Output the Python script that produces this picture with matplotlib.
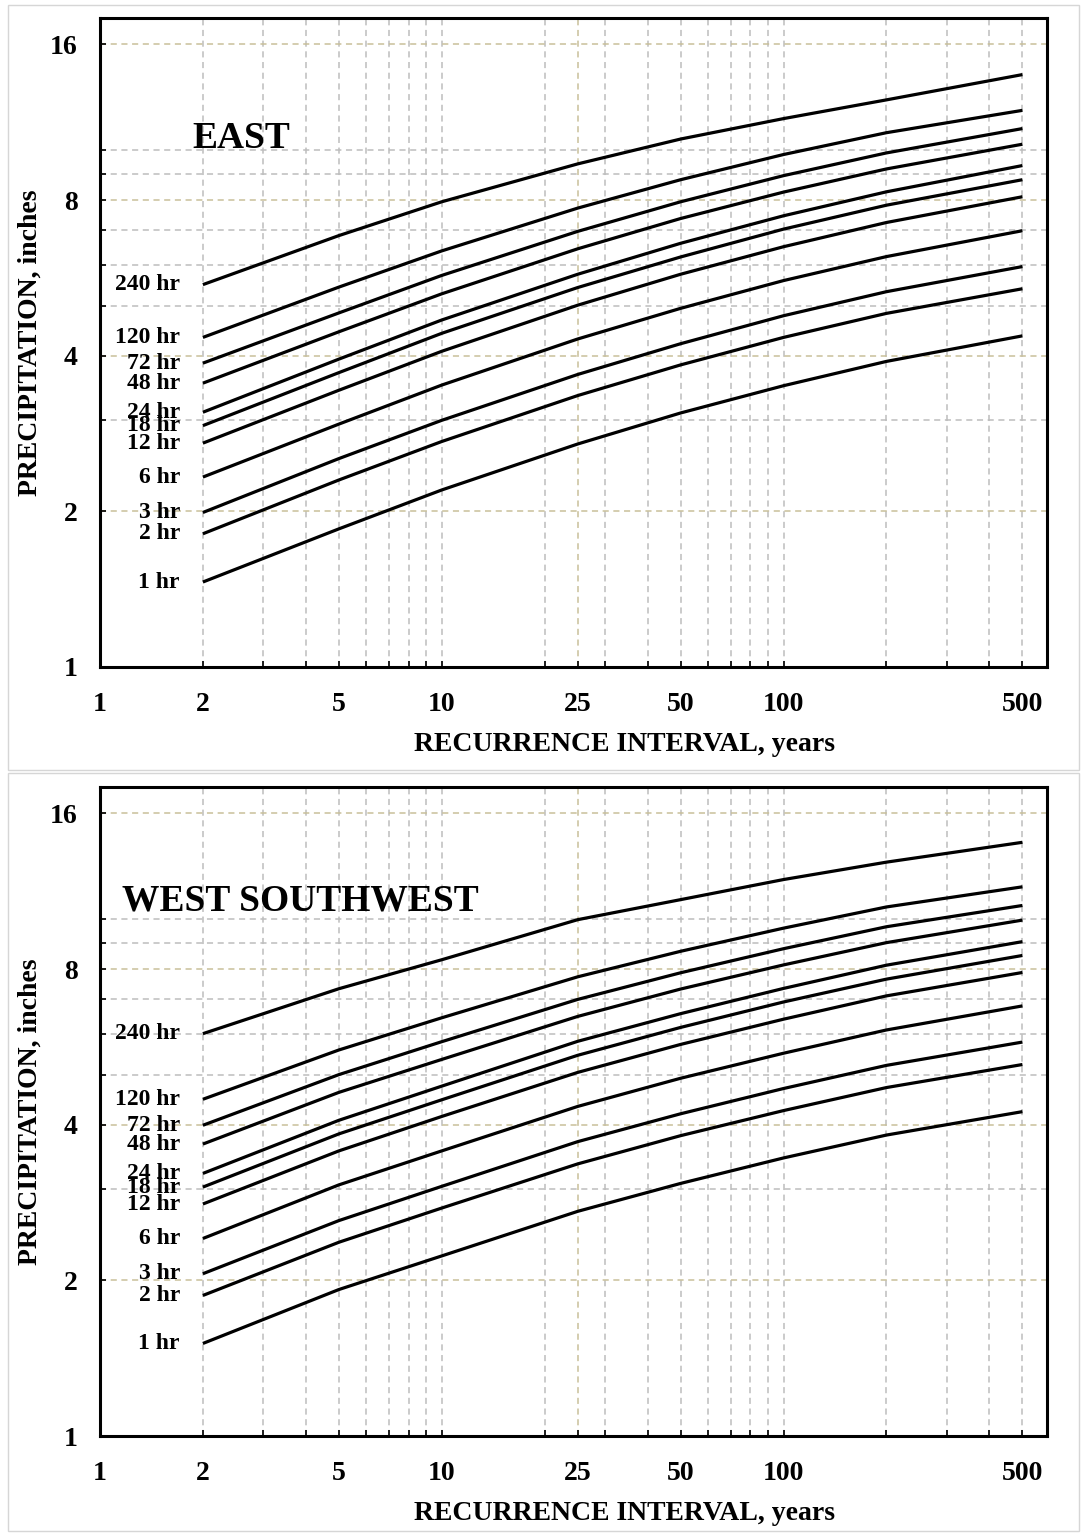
import matplotlib
matplotlib.use("Agg")
from matplotlib import pyplot as plt
from matplotlib.patches import Rectangle
from matplotlib.ticker import FixedLocator, NullFormatter

# recurrence intervals (years) where the curves were read
years = [2, 5, 10, 25, 50, 100, 200, 500]
durations = ['1 hr', '2 hr', '3 hr', '6 hr', '12 hr', '18 hr', '24 hr',
             '48 hr', '72 hr', '120 hr', '240 hr']

# precipitation depth, inches -- EAST
east = [
    [1.46, 1.85, 2.20, 2.70, 3.10, 3.50, 3.90, 4.37],
    [1.81, 2.30, 2.73, 3.35, 3.84, 4.34, 4.83, 5.39],
    [1.99, 2.53, 3.00, 3.68, 4.22, 4.78, 5.32, 5.95],
    [2.33, 2.95, 3.51, 4.31, 4.94, 5.59, 6.22, 6.98],
    [2.71, 3.43, 4.08, 5.01, 5.75, 6.50, 7.24, 8.12],
    [2.93, 3.71, 4.42, 5.42, 6.21, 7.03, 7.82, 8.76],
    [3.11, 3.94, 4.69, 5.75, 6.60, 7.46, 8.30, 9.33],
    [3.54, 4.45, 5.27, 6.44, 7.37, 8.29, 9.19, 10.26],
    [3.87, 4.84, 5.72, 6.96, 7.94, 8.92, 9.87, 11.00],
    [4.34, 5.43, 6.38, 7.72, 8.76, 9.80, 10.80, 11.93],
    [5.49, 6.83, 7.94, 9.40, 10.50, 11.50, 12.50, 13.99],
]

# precipitation depth, inches -- WEST SOUTHWEST
wsw = [
    [1.51, 1.92, 2.23, 2.72, 3.08, 3.45, 3.82, 4.24],
    [1.87, 2.37, 2.76, 3.36, 3.81, 4.26, 4.72, 5.23],
    [2.06, 2.61, 3.04, 3.71, 4.20, 4.70, 5.21, 5.78],
    [2.41, 3.06, 3.56, 4.34, 4.92, 5.50, 6.10, 6.79],
    [2.81, 3.56, 4.15, 5.05, 5.72, 6.40, 7.10, 7.88],
    [3.03, 3.84, 4.47, 5.45, 6.17, 6.91, 7.65, 8.50],
    [3.22, 4.08, 4.75, 5.80, 6.56, 7.34, 8.14, 9.04],
    [3.67, 4.62, 5.35, 6.48, 7.32, 8.15, 9.00, 9.95],
    [3.99, 5.00, 5.79, 6.99, 7.87, 8.76, 9.66, 10.62],
    [4.48, 5.58, 6.44, 7.73, 8.66, 9.60, 10.55, 11.54],
    [6.00, 7.33, 8.34, 9.97, 10.90, 11.92, 12.88, 14.07],
]

x_ticks = [1, 2, 5, 10, 25, 50, 100, 500]
x_minor = [3, 4, 6, 7, 8, 9, 20, 30, 40, 60, 70, 80, 90, 200, 300, 400]
y_ticks = [1, 2, 4, 8, 16]
y_minor = [3, 5, 6, 7, 9, 10]

plt.rcParams['font.family'] = ['Liberation Serif', 'DejaVu Serif']
plt.rcParams['font.weight'] = 'bold'

GREY = '#bdbdbd'
TAN = '#c9c09a'
W, H = 1083, 1533


def draw_panel(ax, data, title, title_pos):
    ax.set_xscale('log')
    ax.set_yscale('log')
    ax.set_xlim(1, 590)
    ax.set_ylim(1, 18)

    # grid lines
    for xv in x_ticks[1:] + x_minor:
        ax.axvline(xv, color=TAN if xv == 25 else GREY, lw=1.1,
                   ls=(0, (4, 3)), zorder=1)
    for yv in y_ticks[1:]:
        ax.axhline(yv, color=TAN, lw=1.1, ls=(0, (4, 3)), zorder=1)
    for yv in y_minor:
        ax.axhline(yv, color=GREY, lw=1.1, ls=(0, (4, 3)), zorder=1)

    for name, vals in zip(durations, data):
        ax.plot(years, vals, color='black', lw=2.3, zorder=3,
                solid_capstyle='butt', solid_joinstyle='round')
        ax.annotate(name, xy=(years[0], vals[0]), xytext=(-23, 0),
                    textcoords='offset pixels', ha='right', va='center',
                    fontsize=17, fontweight='bold')

    ax.xaxis.set_major_locator(FixedLocator(x_ticks))
    ax.xaxis.set_minor_locator(FixedLocator(x_minor))
    ax.set_xticklabels([str(v) for v in x_ticks])
    ax.xaxis.set_minor_formatter(NullFormatter())
    ax.yaxis.set_major_locator(FixedLocator(y_ticks))
    ax.yaxis.set_minor_locator(FixedLocator(y_minor))
    ax.set_yticklabels([str(v) for v in y_ticks])
    ax.yaxis.set_minor_formatter(NullFormatter())

    ax.tick_params(which='both', direction='in', length=4, width=1.2,
                   labelsize=20)
    ax.tick_params(axis='x', which='both', pad=18)
    ax.tick_params(axis='y', which='both', pad=16)
    for lab in ax.get_xticklabels() + ax.get_yticklabels():
        lab.set_fontweight('bold')

    for sp in ax.spines.values():
        sp.set_linewidth(2.2)

    ax.set_xlabel('RECURRENCE INTERVAL, years', fontsize=20,
                  fontweight='bold')
    ax.xaxis.set_label_coords(0.554, -0.1)
    ax.set_ylabel('PRECIPITATION, inches', fontsize=20, fontweight='bold')
    ax.yaxis.set_label_coords(-0.061, 0.5)
    ax.text(title_pos[0], title_pos[1], title, transform=ax.transAxes,
            fontsize=27, fontweight='bold', ha='left', va='center')


fig = plt.figure(figsize=(W / 100, H / 100), dpi=100)

# light frames around each panel
for top, bot in [(5, 770), (773, 1531)]:
    fig.patches.append(Rectangle((8 / W, 1 - bot / H), (1079 - 8) / W,
                                 (bot - top) / H, transform=fig.transFigure,
                                 fill=False, edgecolor='#d6d6d6', lw=1.0))

ax1 = fig.add_axes([100 / W, 1 - 667 / H, 947 / W, 649 / H])
ax2 = fig.add_axes([100 / W, 1 - 1436 / H, 947 / W, 649 / H])

draw_panel(ax1, east, 'EAST', (0.098, 0.814))
draw_panel(ax2, wsw, 'WEST SOUTHWEST', (0.023, 0.824))

fig.savefig('out.png', dpi=100)
